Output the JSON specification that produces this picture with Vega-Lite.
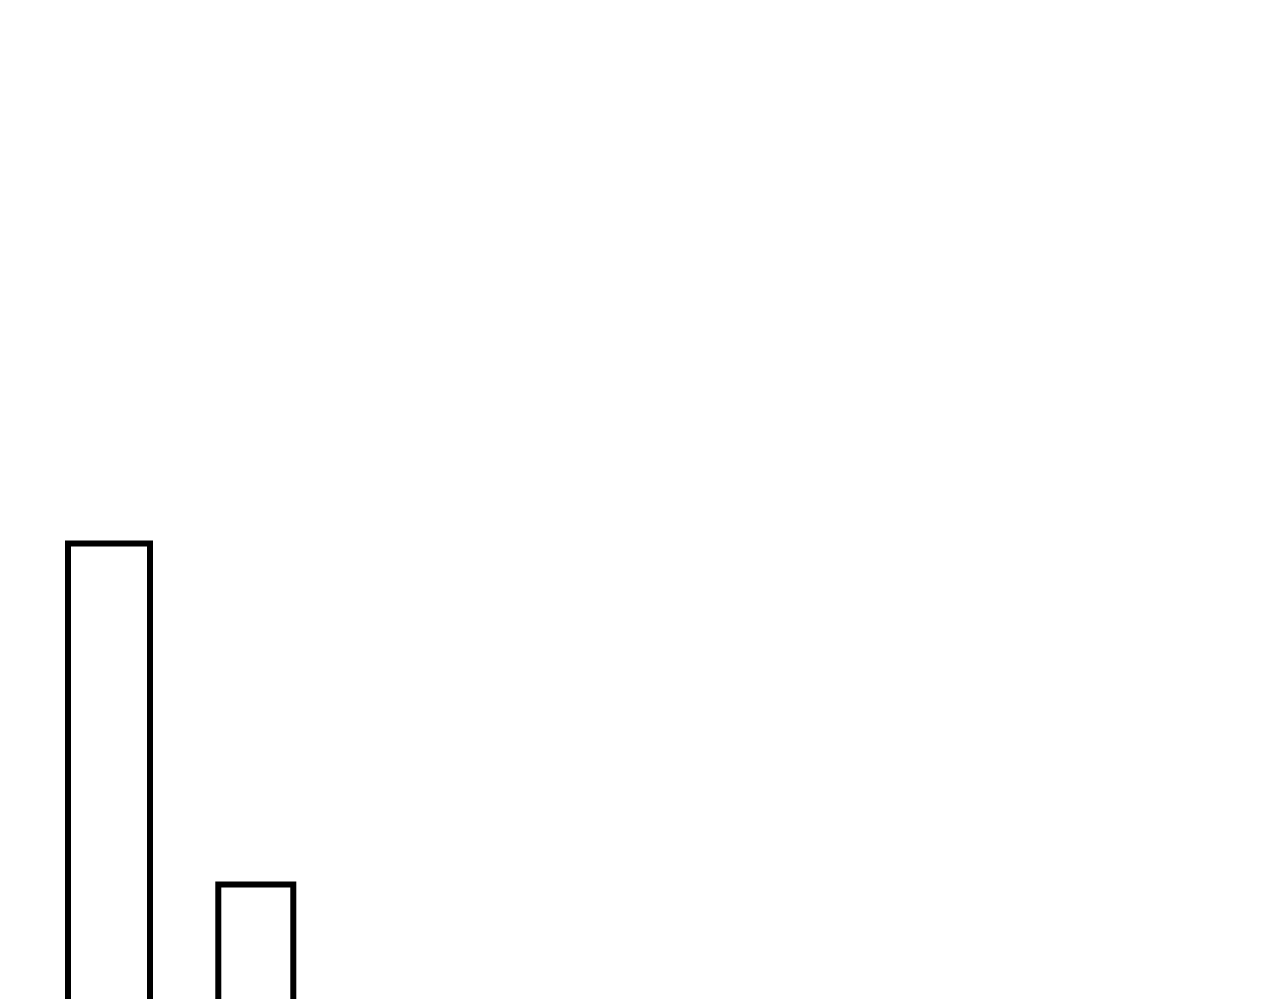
{
  "$schema": "https://vega.github.io/schema/vega-lite/v6.json",
  "width": 1280,
  "height": 1100,
  "autosize": "none",
  "padding": 0,
  "background": "white",
  "config": {"view": {"stroke": null}},
  "data": {
    "values": [
      {"bin_start": 6.8, "bin_end": 15.0, "value": 50.6},
      {"bin_start": 21.83, "bin_end": 29.33, "value": 19.6}
    ]
  },
  "mark": {"type": "bar", "fill": "white", "stroke": "black", "strokeWidth": 6},
  "encoding": {
    "x": {"field": "bin_start", "type": "quantitative", "scale": {"domain": [0, 128], "nice": false, "zero": false}, "axis": null},
    "x2": {"field": "bin_end"},
    "y": {"field": "value", "type": "quantitative", "scale": {"domain": [0, 100], "nice": false}, "axis": null},
    "y2": {"datum": 0}
  }
}
